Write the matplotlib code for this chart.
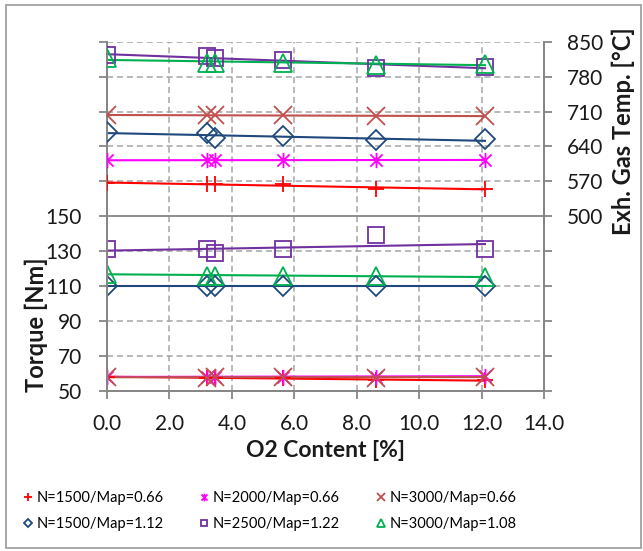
import numpy as np
import matplotlib
matplotlib.use("Agg")
import matplotlib.pyplot as plt
from matplotlib.lines import Line2D
from matplotlib.patches import Rectangle
from matplotlib.path import Path

plt.rcParams['font.family'] = ['Lato', 'DejaVu Sans']

# O2 content [%] for every operating point
o2 = [0.0, 3.2, 3.45, 5.65, 8.6, 12.1]

labels = ["N=1500/Map=0.66", "N=2000/Map=0.66", "N=3000/Map=0.66",
          "N=1500/Map=1.12", "N=2500/Map=1.22", "N=3000/Map=1.08"]

# exhaust gas temperature [degC]
temp_1500_066 = [566, 564, 564, 565, 555, 554]
temp_2000_066 = [612, 612, 613, 613, 612, 613]
temp_3000_066 = [703, 702, 703, 702, 701, 701]
temp_1500_112 = [669, 666, 656, 661, 652, 654]
temp_2500_122 = [823, 822, 817, 813, 798, 800]
temp_3000_108 = [818, 808, 808, 808, 804, 806]

# torque [Nm]
tq_1500_066 = [58, 57.5, 57.5, 57, 56, 56]
tq_2000_066 = [58, 58, 58, 58, 58, 58.5]
tq_3000_066 = [58, 57, 58, 58, 57.5, 58]
tq_1500_112 = [110, 110, 110, 110, 110, 110]
tq_2500_122 = [131, 131, 129, 131, 139, 131]
tq_3000_108 = [117, 116, 116, 116, 116, 115]

temps = [temp_1500_066, temp_2000_066, temp_3000_066,
         temp_1500_112, temp_2500_122, temp_3000_108]
torques = [tq_1500_066, tq_2000_066, tq_3000_066,
           tq_1500_112, tq_2500_122, tq_3000_108]

# excel style asterisk (x with a vertical bar)
star = Path([(0, -1), (0, 1), (-0.8, -0.8), (0.8, 0.8), (-0.8, 0.8), (0.8, -0.8)],
            [Path.MOVETO, Path.LINETO, Path.MOVETO, Path.LINETO, Path.MOVETO, Path.LINETO])

colors = ["#FF0000", "#FF00FF", "#C0504D", "#1F497D", "#7030A0", "#00B050"]
markers = ["+", star, "x", "D", "s", "^"]
msizes = [11, 11, 13, 10, 12, 13]
leg_sizes = [6, 5.5, 5.5, 4, 5, 5.5]

grid_c = "#A6A6A6"
spine_c = "#868686"
text_c = "#1a1a1a"

fig = plt.figure(figsize=(6.43, 5.51), dpi=100)
ax = fig.add_axes([0.1664, 0.2909, 0.6801, 0.6334])
ax2 = ax.twinx()

ax.set_xlim(0, 14)
ax.set_ylim(50, 250)
ax2.set_ylim(150, 850)

ax.set_xticks(np.arange(0, 14.1, 2))
ax.set_xticklabels([f"{v:.1f}" for v in np.arange(0, 14.1, 2)])
ax.set_yticks(np.arange(50, 251, 20))
ax.set_yticklabels([str(v) if v <= 150 else "" for v in range(50, 251, 20)])
ax2.set_yticks(np.arange(150, 851, 70))
ax2.set_yticklabels([str(v) if v >= 500 else "" for v in range(150, 851, 70)])

# grid
for xv in range(2, 14, 2):
    ax.axvline(xv, color=grid_c, ls=(0, (4, 2.5)), lw=1.1, zorder=0)
for yv in range(70, 251, 20):
    if yv == 150:
        ax.axhline(yv, color=spine_c, ls="-", lw=1.3, zorder=0)
    else:
        ax.axhline(yv, color=grid_c, ls=(0, (4, 2.5)), lw=1.1, zorder=0)

for a in (ax, ax2):
    a.spines["top"].set_visible(False)
    for s in ("left", "right", "bottom"):
        a.spines[s].set_color(spine_c)
        a.spines[s].set_linewidth(1.3)
    a.tick_params(colors=spine_c, labelcolor=text_c, labelsize=15, length=6, width=1.3)
ax.tick_params(axis="x", pad=11)
ax.tick_params(axis="y", pad=12)
ax2.tick_params(axis="y", pad=10)

x = np.array(o2)
for i in range(6):
    c = colors[i]
    mk = dict(marker=markers[i], ms=msizes[i], mfc="none", mec=c, mew=1.3, ls="none")
    # temperature on right axis
    ax2.plot(x, temps[i], **mk, zorder=3)
    k, b = np.polyfit(x, temps[i], 1)
    ax2.plot([x.min(), x.max()], [b + k * x.min(), b + k * x.max()], color=c, lw=1.5, zorder=2)
    # torque on left axis
    ax.plot(x, torques[i], **mk, zorder=3)
    k, b = np.polyfit(x, torques[i], 1)
    ax.plot([x.min(), x.max()], [b + k * x.min(), b + k * x.max()], color=c, lw=1.5, zorder=2)

ax.set_xlabel("O2 Content [%]", fontsize=16.5, fontweight="bold", labelpad=4, color=text_c)
ax.set_ylabel("Torque [Nm]", fontsize=17, fontweight="bold", color=text_c)
ax.yaxis.set_label_coords(-0.135, 0.19)
ax2.set_ylabel("Exh. Gas Temp. [°C]", fontsize=17, fontweight="bold", color=text_c)
ax2.yaxis.set_label_coords(1.155, 0.745)

# legend (filled column-wise, so interleave the two rows)
order = [0, 3, 1, 4, 2, 5]
handles = [Line2D([], [], marker=markers[i], color=colors[i], markerfacecolor="none",
                  markeredgewidth=1.3, markersize=leg_sizes[i], linestyle="none")
           for i in order]
fig.legend(handles, [labels[i] for i in order], ncol=3, loc="upper left",
           bbox_to_anchor=(0.036, 0.109), frameon=False, fontsize=10.5,
           handlelength=0.6, handletextpad=0.3, columnspacing=2.5,
           labelspacing=0.82, borderpad=0, borderaxespad=0, markerscale=1)

# chart border
fig.patches.append(Rectangle((6 / 643, 3 / 551), 635 / 643, 543 / 551,
                             transform=fig.transFigure, fill=False,
                             edgecolor="#A0A0A0", lw=1.3))

fig.savefig("out.png", dpi=100)
